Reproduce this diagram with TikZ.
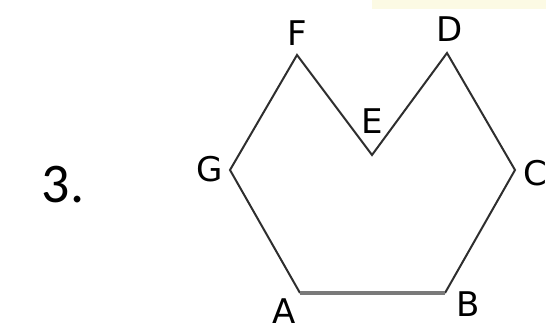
\documentclass[tikz,border=0pt]{standalone}
\usepackage{fontspec}
\usepackage{xcolor}
\usepackage{tikz}
\usetikzlibrary{positioning, calc}
\setmainfont{DejaVu Sans}
\newfontfamily\numfont{Carlito}
\definecolor{edgegray}{HTML}{2E2E2E}
\definecolor{basegray}{HTML}{7A7A7A}
\definecolor{stripyellow}{HTML}{FCFAE4}
\tikzset{
  edge/.style={draw=edgegray, line width=2pt, line join=miter},
  baseedge/.style={draw=basegray, line width=4.5pt},
  vlabel/.style={font=\fontsize{34}{34}\selectfont, inner sep=0pt, text=black},
  numlabel/.style={font=\numfont\fontsize{56}{56}\selectfont, inner sep=0pt, text=black},
}

\begin{document}
\begin{tikzpicture}[x=1pt, y=-1pt]

  \useasboundingbox (0,0) rectangle (546,332);
  \fill[stripyellow] (372,0) rectangle (546,9);

  % vertices
  \coordinate (A) at (300,293);
  \coordinate (B) at (445,293);
  \coordinate (C) at (515,170);
  \coordinate (D) at (447,53);
  \coordinate (E) at (372,155);
  \coordinate (F) at (297,55);
  \coordinate (G) at (230,170);

  \node[numlabel] (num) at (63,185) {3.};

  \node[vlabel] (la) at (284,311) {A};
  \node[vlabel] (lb) at (468,304) {B};
  \node[vlabel] (lc) at (535,173) {C};
  \node[vlabel] (ld) at (450,29) {D};
  \node[vlabel] (le) at (372,121) {E};
  \node[vlabel] (lf) at (297,33) {F};
  \node[vlabel] (lg) at (210,169) {G};

  \draw[edge] (B) -- (C) -- (D) -- (E) -- (F) -- (G) -- (A);
  \draw[baseedge] (A) -- (B);

\end{tikzpicture}
\end{document}
